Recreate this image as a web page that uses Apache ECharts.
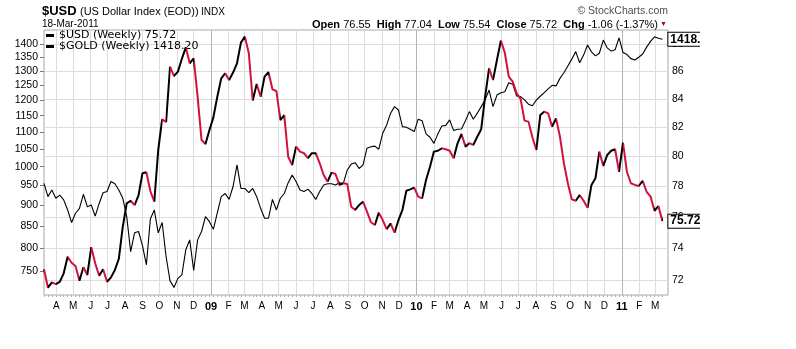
<!DOCTYPE html>
<html>
<head>
<meta charset="utf-8">
<script src="https://cdn.jsdelivr.net/npm/echarts@6/dist/echarts.min.js"></script>
<style>
html,body{margin:0;padding:0;background:#fff;}
#chart{width:700px;height:349px;overflow:hidden;}
</style>
</head>
<body>
<div id="chart"></div>
<script>
// ---- data (weekly, plotted at the Monday of each week; first week ends 14-Mar-2008) ----
const firstWeekMonday = '2008-03-10';
const axisStart = '2008-03-10';
const axisEnd = '2011-03-24';

const usdValues = [
  72.69,71.56,71.89,71.78,71.92,72.44,73.47,73.09,72.89,71.98,
  72.81,72.34,74.06,73.06,72.29,72.69,71.92,72.19,72.65,73.34,
  75.36,76.87,77.04,76.76,77.40,78.86,78.92,77.68,76.98,80.43,
  82.55,82.37,86.32,85.64,85.96,86.90,87.75,86.57,86.94,84.15,
  81.11,80.84,81.80,82.69,84.15,85.47,85.84,85.35,85.89,86.57,
  88.10,88.55,87.31,83.87,85.06,84.15,85.60,85.93,84.68,84.56,
  82.50,82.85,79.97,79.41,80.66,80.32,80.21,79.87,80.21,80.21,
  79.53,78.74,78.30,78.90,78.81,78.08,78.19,78.15,76.65,76.44,
  76.76,76.98,76.33,75.65,75.47,76.27,75.79,75.21,75.57,74.98,
  75.79,76.44,77.70,77.79,77.90,77.31,77.20,78.41,79.30,80.32,
  80.38,80.54,80.48,80.38,79.87,80.89,81.53,80.66,80.89,80.78,
  81.34,81.86,84.15,86.20,85.35,86.81,88.25,87.35,85.60,85.23,
  84.39,84.00,82.46,82.39,81.30,80.43,82.85,83.09,82.97,82.04,
  82.62,81.34,79.53,78.19,77.13,77.04,77.41,77.04,76.58,78.08,
  78.52,80.32,79.35,80.09,80.38,80.48,78.96,80.93,78.96,78.19,
  78.08,78.01,78.36,77.63,77.31,76.39,76.69,75.72
];

const goldValues = [
  955,921,938,917,925,913,888,858,880,892,
  927,896,900,873,904,931,934,960,954,938,
  917,872,792,834,837,805,764,866,888,834,
  858,781,731,718,736,743,796,818,752,818,
  837,872,860,842,881,921,929,914,947,1005,
  942,942,931,942,921,892,868,868,914,888,
  917,929,957,977,960,938,934,940,929,914,
  934,951,954,954,951,957,955,991,1007,1011,
  995,1005,1052,1056,1058,1049,1096,1121,1158,1179,
  1168,1116,1114,1108,1101,1139,1134,1094,1084,1066,
  1094,1118,1120,1137,1104,1108,1109,1134,1163,1139,
  1158,1179,1201,1234,1179,1217,1225,1228,1259,1254,
  1214,1212,1201,1187,1182,1200,1213,1225,1238,1250,
  1248,1274,1294,1318,1343,1371,1330,1358,1396,1370,
  1355,1365,1415,1385,1373,1378,1424,1368,1360,1345,
  1340,1350,1362,1388,1410,1428,1422,1418.2
];

const monthTickDates = [
  '2008-04-01','2008-05-01','2008-06-01','2008-07-01','2008-08-01','2008-09-01',
  '2008-10-01','2008-11-01','2008-12-01','2009-01-01','2009-02-01','2009-03-01',
  '2009-04-01','2009-05-01','2009-06-01','2009-07-01','2009-08-01','2009-09-01',
  '2009-10-01','2009-11-01','2009-12-01','2010-01-01','2010-02-01','2010-03-01',
  '2010-04-01','2010-05-01','2010-06-01','2010-07-01','2010-08-01','2010-09-01',
  '2010-10-01','2010-11-01','2010-12-01','2011-01-01','2011-02-01','2011-03-01'
];
const monthTickLabels = [
  'A','M','J','J','A','S','O','N','D','09','F','M',
  'A','M','J','J','A','S','O','N','D','10','F','M',
  'A','M','J','J','A','S','O','N','D','11','F','M'
];
const yearLabels = ['09','10','11'];

const goldTicks = [750,800,850,900,950,1000,1050,1100,1150,1200,1250,1300,1350,1400];
const usdTicks = [72,74,76,78,80,82,84,86,88];

const goldAxisRange = [703.2, 1454.8];
const usdAxisRange = [71.12, 89.05];

const headerStats = [['Open','76.55'],['High','77.04'],['Low','75.54'],['Close','75.72'],['Chg','-1.06 (-1.37%)']];

// ---- build: x is measured in days from axisStart ----
function toDay(y, m, d){ return Math.round((Date.UTC(y, m, d) - Date.UTC(2008, 2, 10)) / 86400000); }
function strDay(s){ const p = s.split('-').map(Number); return toDay(p[0], p[1]-1, p[2]); }
const fw = firstWeekMonday.split('-').map(Number);
const weekDays = usdValues.map((_, k) => toDay(fw[0], fw[1]-1, fw[2] + 7*k));
const monthDays = monthTickDates.map(strDay);
const monthLabelMap = {};
monthDays.forEach((t, i) => { monthLabelMap[t] = monthTickLabels[i]; });

const RED = '#d2103c', BLACK = '#000000';
const FONT = "'Liberation Sans', Arial, sans-serif";
const NARROW = "'Liberation Sans Narrow', 'Liberation Sans', Arial, sans-serif";

const usdName = '$USD (Weekly) ' + usdValues[usdValues.length-1].toFixed(2);
const goldName = '$GOLD (Weekly) ' + goldValues[goldValues.length-1].toFixed(2);

// colour segments: red when the dollar falls, black when it rises
const pieces = [];
for (let k = 0; k < usdValues.length - 1; k++) {
  const col = usdValues[k+1] < usdValues[k] ? RED : BLACK;
  const last = pieces[pieces.length-1];
  if (last && last.color === col) last.lte = weekDays[k+1];
  else pieces.push(pieces.length ? {gt: weekDays[k], lte: weekDays[k+1], color: col} : {gte: weekDays[k], lte: weekDays[k+1], color: col});
}

const monthLineColors = monthTickLabels.slice(0, 12).map(l => yearLabels.indexOf(l) >= 0 ? '#b4b4b4' : '#dcdcdc');

const chart = echarts.init(document.getElementById('chart'), null, {renderer: 'canvas'});
chart.setOption({
  animation: false,
  backgroundColor: '#ffffff',
  title: [
    {text: '$USD', left: 42, top: 4, padding: 0, textStyle: {fontFamily: FONT, fontSize: 13, fontWeight: 'bold', color: '#000', lineHeight: 14}},
    {text: '(US Dollar Index (EOD))', left: 80, top: 6, padding: 0, textStyle: {fontFamily: FONT, fontSize: 11, fontWeight: 'normal', color: '#000', lineHeight: 11}},
    {text: 'INDX', left: 201, top: 7, padding: 0, textStyle: {fontFamily: FONT, fontSize: 10, fontWeight: 'normal', color: '#000', lineHeight: 10}},
    {text: '18-Mar-2011', left: 42, top: 19, padding: 0, textStyle: {fontFamily: FONT, fontSize: 10, fontWeight: 'normal', color: '#000', lineHeight: 10}},
    {text: headerStats.map(s => '{k|' + s[0] + '} ' + s[1]).join('  '), right: 42, top: 19, padding: 0,
      textStyle: {fontFamily: FONT, fontSize: 11, fontWeight: 'normal', color: '#000', lineHeight: 11,
        rich: {k: {fontFamily: FONT, fontSize: 11, fontWeight: 'bold', color: '#000', lineHeight: 11}}}},
    {text: '\u25BC', right: 33, top: 21, padding: 0, textStyle: {fontSize: 7, color: '#8b1030', fontWeight: 'normal', lineHeight: 7}},
    {text: '\u00A9 StockCharts.com', right: 32, top: 6, padding: 0, textStyle: {fontFamily: FONT, fontSize: 10.5, fontWeight: 'normal', color: '#505050', lineHeight: 10}}
  ],
  legend: {
    show: true, orient: 'vertical', left: 46, top: 30, padding: 0, itemGap: 0,
    itemWidth: 8, itemHeight: 3, icon: 'rect', selectedMode: false,
    textStyle: {fontFamily: "'DejaVu Sans', Verdana, sans-serif", fontSize: 11, color: '#000', lineHeight: 11},
    data: [{name: usdName, itemStyle: {color: '#000'}}, {name: goldName, itemStyle: {color: '#000'}}]
  },
  grid: {left: 44, top: 30, width: 624, height: 265, show: true, borderColor: '#a8a8a8', borderWidth: 1, backgroundColor: '#fff', containLabel: false},
  xAxis: [
    {
      type: 'value', position: 'bottom', min: strDay(axisStart), max: strDay(axisEnd),
      axisLine: {show: false}, axisTick: {show: false, customValues: monthDays},
      axisLabel: {customValues: monthDays, margin: 6, fontFamily: NARROW, fontSize: 10, color: '#000', hideOverlap: false,
        formatter: v => { const l = monthLabelMap[Math.round(v)] || ''; return yearLabels.indexOf(l) >= 0 ? '{y|' + l + '}' : l; },
        rich: {y: {fontFamily: NARROW, fontSize: 11, fontWeight: 'bold', color: '#000'}}},
      splitLine: {show: true, lineStyle: {color: monthLineColors, width: 1}}
    },
    {
      type: 'value', position: 'bottom', min: strDay(axisStart), max: strDay(axisEnd),
      axisLine: {show: false}, axisLabel: {show: false}, splitLine: {show: false},
      axisTick: {show: true, customValues: weekDays, length: 2, lineStyle: {color: '#b0b0b0', width: 1}}
    }
  ],
  yAxis: [
    {
      type: 'value', position: 'left', min: Math.log(goldAxisRange[0]), max: Math.log(goldAxisRange[1]),
      axisLine: {show: false}, splitLine: {show: false},
      axisTick: {show: true, length: 4, customValues: goldTicks.map(Math.log), lineStyle: {color: '#777'}},
      axisLabel: {customValues: goldTicks.map(Math.log), margin: 6, fontFamily: FONT, fontSize: 10.5, color: '#000',
        formatter: v => String(Math.round(Math.exp(v)))}
    },
    {
      type: 'value', position: 'right', min: Math.log(usdAxisRange[0]), max: Math.log(usdAxisRange[1]),
      axisLine: {show: false},
      axisTick: {show: false, customValues: usdTicks.map(Math.log)},
      axisLabel: {customValues: usdTicks.map(Math.log), margin: 4, fontFamily: FONT, fontSize: 10.5, color: '#000',
        formatter: v => String(Math.round(Math.exp(v)))},
      splitLine: {show: true, lineStyle: {color: '#dcdcdc', width: 1}}
    }
  ],
  visualMap: {
    type: 'piecewise', show: false, seriesIndex: 1, dimension: 0,
    pieces: pieces, outOfRange: {color: BLACK}
  },
  series: [
    {
      name: goldName, type: 'line', xAxisIndex: 0, yAxisIndex: 0, showSymbol: false, silent: true,
      data: weekDays.map((t, i) => [t, Math.log(goldValues[i])]),
      lineStyle: {color: '#000', width: 1.1}, itemStyle: {color: '#000'},
      endLabel: {show: true, distance: 6, formatter: () => goldValues[goldValues.length-1].toFixed(1),
        fontFamily: NARROW, fontSize: 12, fontWeight: 'bold', color: '#000', backgroundColor: '#fff',
        borderColor: '#000', borderWidth: 1, padding: [1, 2, 0, 2]},
      z: 3
    },
    {
      name: usdName, type: 'line', xAxisIndex: 0, yAxisIndex: 1, showSymbol: false, silent: true,
      data: weekDays.map((t, i) => [t, Math.log(usdValues[i])]),
      lineStyle: {width: 2}, itemStyle: {color: '#000'},
      endLabel: {show: true, distance: 6, formatter: () => usdValues[usdValues.length-1].toFixed(2),
        fontFamily: NARROW, fontSize: 12, fontWeight: 'bold', color: '#000', backgroundColor: '#fff',
        borderColor: '#000', borderWidth: 1, padding: [1, 2, 0, 2]},
      z: 4
    }
  ]
});
</script>
</body>
</html>
